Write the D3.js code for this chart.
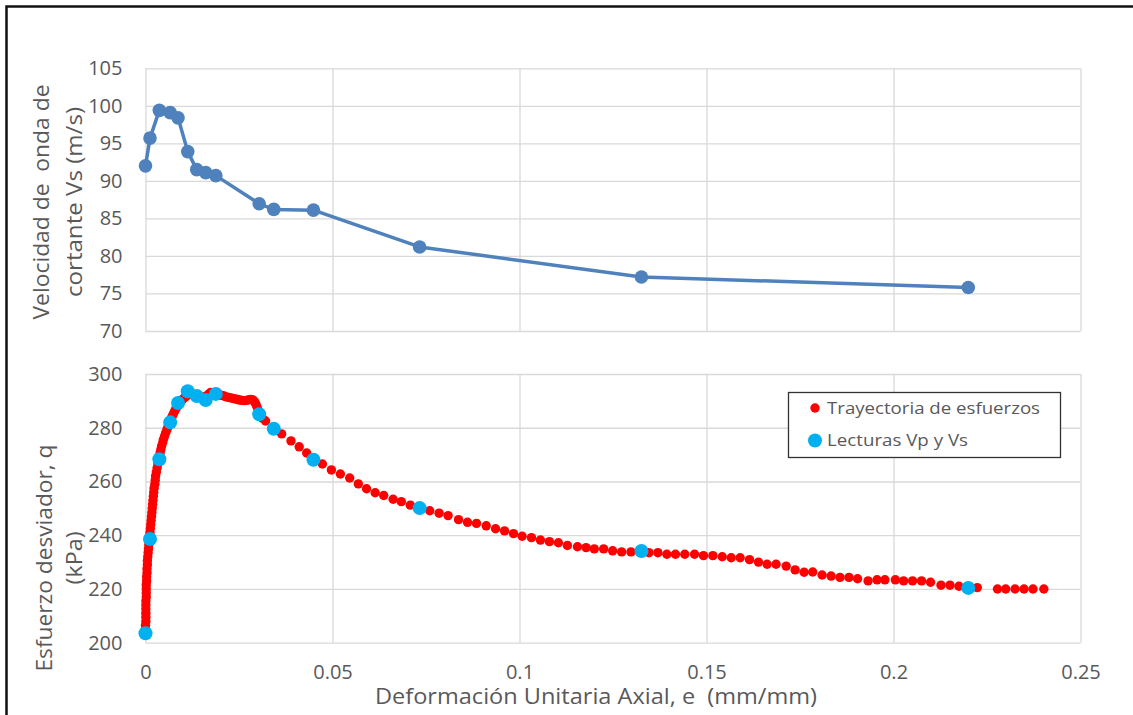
<!DOCTYPE html>
<html>
<head>
<meta charset="utf-8">
<script src="https://cdn.jsdelivr.net/npm/d3@7"></script>
<style>
  html, body { margin: 0; padding: 0; background: #fff; }
  svg { display: block; }
  text { font-family: "Open Sans", "Noto Sans", sans-serif; }
</style>
</head>
<body>
<svg id="chart" width="1133" height="715"></svg>
<script>
// ---------------- DATA ----------------
const xTicks = [0, 0.05, 0.1, 0.15, 0.2, 0.25];
const xTickLabels = ["0", "0.05", "0.1", "0.15", "0.2", "0.25"];
const vsTicks = [70, 75, 80, 85, 90, 95, 100, 105];
const qTicks = [200, 220, 240, 260, 280, 300];

// Readings (Vp, Vs) strain values
const readStrain = [0, 0.0012, 0.0037, 0.0066, 0.0087, 0.0113, 0.0137, 0.0161, 0.0188, 0.0304, 0.0343, 0.0449, 0.0733, 0.1326, 0.2200];
// Shear wave velocity Vs (m/s)
const vsValues = [92.0, 95.7, 99.4, 99.1, 98.4, 93.9, 91.5, 91.1, 90.7, 86.95, 86.2, 86.1, 81.2, 77.2, 75.8];
// Deviator stress at readings (kPa)
const readQ = [203.5, 238.6, 268.3, 282.0, 289.2, 293.6, 291.8, 290.3, 292.6, 285.0, 279.6, 268.1, 250.1, 234.1, 220.4];

// Stress path (strain, q)
const pathStrain = [
  0.0000, 0.0000, 0.0000, 0.0001, 0.0001, 0.0001, 0.0001, 0.0001, 0.0001, 0.0002,
  0.0002, 0.0002, 0.0002, 0.0003, 0.0003, 0.0004, 0.0004, 0.0005, 0.0005, 0.0006,
  0.0007, 0.0008, 0.0009, 0.0010, 0.0011, 0.0012, 0.0013, 0.0014, 0.0015, 0.0016,
  0.0017, 0.0018, 0.0019, 0.0020, 0.0021, 0.0022, 0.0023, 0.0025, 0.0026, 0.0027,
  0.0029, 0.0031, 0.0033, 0.0035, 0.0037, 0.0039, 0.0041, 0.0043, 0.0046, 0.0048,
  0.0051, 0.0054, 0.0057, 0.0060, 0.0063, 0.0066, 0.0069, 0.0072, 0.0075, 0.0078,
  0.0081, 0.0085, 0.0089, 0.0093, 0.0097, 0.0101, 0.0106, 0.0110, 0.0114,
  0.0120, 0.0126, 0.0132, 0.0138, 0.0144, 0.0150, 0.0156, 0.0162, 0.0168, 0.0174,
  0.0180, 0.0186, 0.0192, 0.0198, 0.0204, 0.0210, 0.0216, 0.0222, 0.0228, 0.0234,
  0.0240, 0.0246, 0.0252, 0.0258, 0.0264, 0.0270, 0.0276, 0.0282, 0.0288, 0.0292,
  0.0295, 0.0298, 0.0301, 0.0304, 0.0308, 0.0313,
  0.0321, 0.0343, 0.0364, 0.0389, 0.0411, 0.0431, 0.0452, 0.0473,
  0.0497, 0.0521, 0.0546, 0.0569, 0.0591, 0.0614, 0.0637, 0.0662, 0.0684, 0.0708,
  0.0734, 0.0760, 0.0785, 0.0809, 0.0837, 0.0861, 0.0885, 0.0911, 0.0936, 0.0960,
  0.0984, 0.1007, 0.1032, 0.1056, 0.1080, 0.1104, 0.1128, 0.1155, 0.1178, 0.1200,
  0.1225, 0.1249, 0.1273, 0.1298, 0.1322, 0.1346, 0.1370, 0.1394, 0.1417, 0.1442,
  0.1468, 0.1492, 0.1517, 0.1542, 0.1566, 0.1590, 0.1615, 0.1639, 0.1662, 0.1686,
  0.1713, 0.1737, 0.1761, 0.1784, 0.1809, 0.1833, 0.1857, 0.1881, 0.1904, 0.1932,
  0.1956, 0.1977, 0.2005, 0.2027, 0.2051, 0.2075, 0.2099, 0.2127, 0.2151, 0.2175,
  0.2200, 0.2224, 0.2278, 0.2300, 0.2325, 0.2349, 0.2373, 0.2402
];
const pathQ = [
  203.5, 205.0, 206.5, 208.0, 209.5, 211.0, 212.5, 214.0, 215.5, 217.0,
  218.5, 220.0, 221.5, 223.0, 224.5, 226.0, 227.5, 229.0, 230.5, 232.0,
  233.5, 235.0, 236.5, 238.0, 239.5, 241.0, 242.5, 244.0, 245.5, 247.0,
  248.5, 250.0, 251.5, 253.0, 254.5, 256.0, 257.5, 259.0, 260.5, 262.0,
  263.5, 265.0, 266.5, 268.0, 269.3, 270.6, 271.9, 273.2, 274.5, 275.7,
  276.9, 278.1, 279.2, 280.3, 281.4, 282.4, 283.4, 284.4, 285.3, 286.2,
  287.0, 287.9, 288.7, 289.5, 290.2, 290.8, 291.4, 291.9, 292.2,
  292.4, 292.4, 292.2, 292.0, 291.7, 291.5, 291.4, 291.6, 292.4, 293.1,
  293.0, 292.8, 292.5, 292.2, 292.0, 291.8, 291.5, 291.3, 291.1, 290.9,
  290.7, 290.5, 290.3, 290.2, 290.1, 290.2, 290.4, 290.5, 290.3, 289.6,
  288.8, 287.8, 286.7, 285.6, 284.5, 283.5,
  282.5, 279.8, 277.7, 275.1, 272.9, 270.6, 268.5, 266.5,
  264.3, 262.8, 261.3, 259.1, 257.3, 255.8, 254.8, 253.4, 252.5, 251.2,
  250.0, 249.1, 248.2, 247.3, 245.8, 244.8, 244.4, 243.5, 242.4, 241.6,
  240.6, 239.6, 239.1, 238.2, 237.6, 237.2, 236.2, 235.7, 235.4, 234.9,
  234.9, 234.2, 233.8, 233.8, 233.7, 233.5, 233.5, 232.9, 232.9, 232.9,
  232.9, 232.4, 232.4, 232.0, 231.6, 231.6, 230.9, 230.0, 229.2, 229.2,
  228.5, 227.1, 226.2, 226.3, 225.2, 224.8, 224.3, 224.3, 223.8, 223.0,
  223.4, 223.4, 223.4, 223.0, 223.0, 223.0, 222.5, 221.4, 221.4, 221.0,
  220.7, 220.5, 220.0, 220.0, 220.0, 220.0, 220.0, 220.0
];

const legendLabels = ["Trayectoria de esfuerzos", "Lecturas Vp y Vs"];

// ---------------- DRAWING ----------------
const svg = d3.select("#chart");
const textColor = "#595959";
const gridColor = "#d9d9d9";
const lineBlue = "#4f81bd";
const red = "#ff0000";
const cyan = "#00b0f0";

svg.append("rect").attr("width", 1133).attr("height", 715).attr("fill", "#fff");
svg.append("rect").attr("x", 6.5).attr("y", 6.5).attr("width", 1200).attr("height", 800)
  .attr("fill", "none").attr("stroke", "#111").attr("stroke-width", 2.5);

const x = d3.scaleLinear().domain([0, 0.25]).range([145.5, 1080.5]);
const yTop = d3.scaleLinear().domain([70, 105]).range([331, 68.3]);
const yBot = d3.scaleLinear().domain([200, 300]).range([642.7, 374]);

function grid(yScale, ticks, showX) {
  const [y0, y1] = yScale.range(); // bottom, top
  const g = svg.append("g");
  const ya = d3.axisLeft(yScale).tickValues(ticks).tickSize(-(x.range()[1] - x.range()[0])).tickPadding(23);
  const gy = g.append("g").attr("transform", `translate(${x.range()[0]},0)`).call(ya);
  gy.select(".domain").remove();
  gy.selectAll(".tick line").attr("stroke", gridColor).attr("stroke-width", 1.3);
  gy.selectAll(".tick text").attr("fill", textColor).attr("font-size", 20);
  const xa = d3.axisBottom(x).tickValues(xTicks).tickSize(-(y0 - y1)).tickPadding(22)
    .tickFormat((d, i) => showX ? xTickLabels[i] : "");
  const gx = g.append("g").attr("transform", `translate(0,${y0})`).call(xa);
  gx.select(".domain").remove();
  gx.selectAll(".tick line").attr("stroke", gridColor).attr("stroke-width", 1.3);
  gx.selectAll(".tick text").attr("fill", textColor).attr("font-size", 20);
}
grid(yTop, vsTicks, false);
grid(yBot, qTicks, true);

// Top: Vs line + markers
const vsData = readStrain.map((s, i) => ({ s, v: vsValues[i] }));
svg.append("path").datum(vsData)
  .attr("fill", "none").attr("stroke", lineBlue).attr("stroke-width", 3.5)
  .attr("stroke-linejoin", "round")
  .attr("d", d3.line().x(d => x(d.s)).y(d => yTop(d.v)));
svg.append("g").selectAll("circle").data(vsData).join("circle")
  .attr("cx", d => x(d.s)).attr("cy", d => yTop(d.v)).attr("r", 6.8)
  .attr("fill", lineBlue);

// Bottom: stress path
const pathData = pathStrain.map((s, i) => ({ s, q: pathQ[i] }));
svg.append("g").selectAll("circle").data(pathData).join("circle")
  .attr("cx", d => x(d.s)).attr("cy", d => yBot(d.q)).attr("r", 4.7)
  .attr("fill", red);
const readData = readStrain.map((s, i) => ({ s, q: readQ[i] }));
svg.append("g").selectAll("circle").data(readData).join("circle")
  .attr("cx", d => x(d.s)).attr("cy", d => yBot(d.q)).attr("r", 7)
  .attr("fill", cyan);

// Axis titles
function vtitle(lines, cx, cy, lens) {
  lines.forEach((t, i) => {
    svg.append("text")
      .attr("transform", `translate(${cx[i]},${cy}) rotate(-90)`)
      .attr("text-anchor", "middle").attr("dy", "0.35em")
      .attr("fill", textColor).attr("font-size", 21)
      .style("white-space", "pre")
      .attr("textLength", lens[i]).attr("lengthAdjust", "spacingAndGlyphs")
      .text(t);
  });
}
vtitle(["Velocidad de  onda de", "cortante Vs (m/s)"], [42, 75], 202, [235, 190]);
vtitle(["Esfuerzo desviador, q", "(kPa)"], [45, 75], 558, [227, 53]);

svg.append("text")
  .attr("x", 596).attr("y", 697).attr("dy", "0.35em")
  .attr("text-anchor", "middle").attr("fill", textColor).attr("font-size", 21)
  .style("white-space", "pre")
  .attr("textLength", 442).attr("lengthAdjust", "spacingAndGlyphs")
  .text("Deformación Unitaria Axial, e  (mm/mm)");

// Legend
const lg = svg.append("g");
lg.append("rect").attr("x", 788.5).attr("y", 392.5).attr("width", 272).attr("height", 65)
  .attr("fill", "#fff").attr("stroke", "#333").attr("stroke-width", 1.3);
const legColors = [red, cyan];
const legR = [4.7, 7];
const legLen = [213, 141];
legendLabels.forEach((t, i) => {
  const cy = 408 + i * 32.5;
  lg.append("circle").attr("cx", 815).attr("cy", cy).attr("r", legR[i]).attr("fill", legColors[i]);
  lg.append("text").attr("x", 827).attr("y", cy).attr("dy", "0.35em")
    .attr("fill", textColor).attr("font-size", 17)
    .attr("textLength", legLen[i]).attr("lengthAdjust", "spacingAndGlyphs")
    .text(t);
});
</script>
</body>
</html>
